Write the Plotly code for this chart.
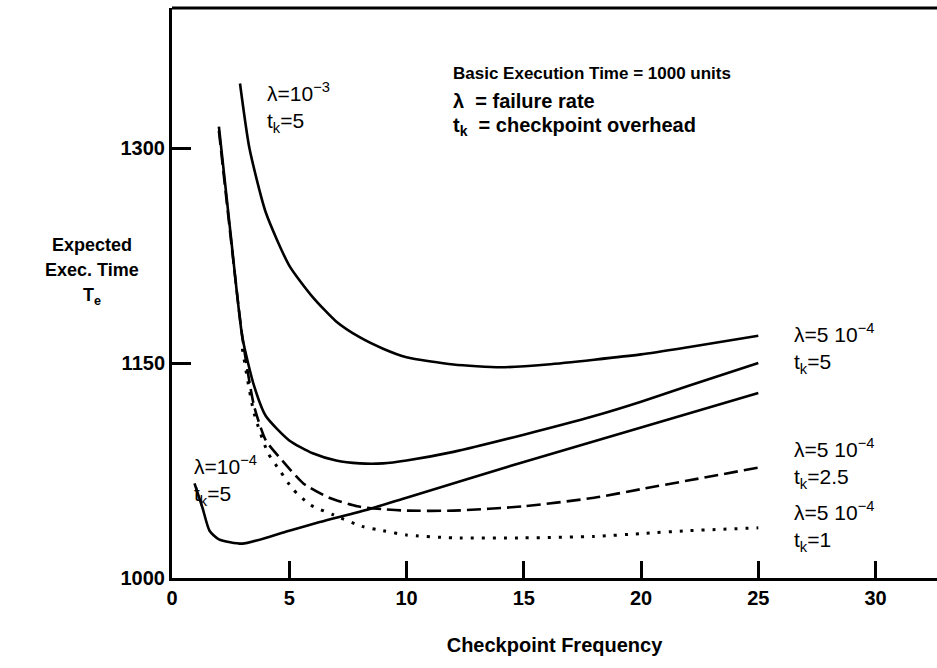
import plotly.graph_objects as go

# Checkpoint frequency (x) and expected execution time (y) for each configuration
x_l1e3_t5 = [2.9, 3.3, 4.0, 5.0, 6.0, 7.0, 8.0, 9.0, 10.0, 12.0, 14.0, 16.0, 20.0, 22.0, 25.0]
y_l1e3_t5 = [1345, 1300, 1255, 1218, 1196, 1179, 1168, 1160, 1154, 1149, 1147, 1149, 1156, 1161, 1169]

x_l5e4_t5 = [2.0, 2.5, 3.0, 3.5, 4.0, 5.0, 6.0, 7.0, 8.0, 9.0, 10.0, 12.0, 15.0, 18.0, 20.0, 22.0, 25.0]
y_l5e4_t5 = [1315, 1240, 1168, 1134, 1113, 1096, 1087, 1082, 1080, 1080, 1082, 1088, 1100, 1113, 1123, 1134, 1150]

x_l5e4_t25 = [2.0, 2.5, 3.0, 3.5, 4.0, 4.7, 5.6, 6.7, 7.9, 9.0, 10.0, 12.0, 15.0, 18.0, 20.0, 22.0, 25.0]
y_l5e4_t25 = [1312, 1238, 1168, 1120, 1096, 1082, 1066, 1056, 1050, 1048, 1047, 1047, 1050, 1056, 1062, 1068, 1077]

x_l5e4_t1 = [3.0, 3.5, 4.1, 4.6, 5.15, 5.9, 6.9, 8.1, 9.0, 10.0, 12.0, 15.0, 18.0, 20.0, 22.0, 25.0]
y_l5e4_t1 = [1160, 1115, 1087, 1075, 1062, 1051, 1044, 1036, 1033, 1030, 1028, 1028, 1029, 1031, 1033, 1035]

x_l1e4_t5 = [0.96, 1.3, 1.6, 2.0, 3.0, 4.2, 5.0, 6.3, 8.4, 10.0, 15.0, 20.0, 25.0]
y_l1e4_t5 = [1066, 1049, 1033, 1027, 1024, 1029, 1033, 1039, 1048, 1056, 1081, 1105, 1129]

x_ticks = [0, 5, 10, 15, 20, 25, 30]
y_ticks = [1000, 1150, 1300]

FONT = "Liberation Sans, Arial, sans-serif"
INK = "black"

fig = go.Figure()

def curve(xs, ys, dash="solid", width=2.6):
    fig.add_trace(go.Scatter(
        x=xs, y=ys, mode="lines",
        line=dict(color=INK, width=width, dash=dash, shape="spline", smoothing=0.6),
        hoverinfo="skip", showlegend=False,
    ))

curve(x_l1e3_t5, y_l1e3_t5)
curve(x_l5e4_t5, y_l5e4_t5)
curve(x_l5e4_t25, y_l5e4_t25, dash="14px,6px")
curve(x_l5e4_t1, y_l5e4_t1, dash="3px,8px", width=3)
curve(x_l1e4_t5, y_l1e4_t5)

def label(x, y, text, size=21, xanchor="left", bold=False):
    if bold:
        text = "<b>" + text + "</b>"
    fig.add_annotation(
        x=x, y=y, xref="x", yref="y", text=text, showarrow=False,
        xanchor=xanchor, yanchor="middle", align="left",
        font=dict(family=FONT, size=size, color=INK),
    )

# curve labels (two lines each)
label(3.95, 1328, "λ=10<sup>−3</sup><br>t<sub>k</sub>=5")
label(26.44, 1160, "λ=5 10<sup>−4</sup><br>t<sub>k</sub>=5")
label(26.44, 1080, "λ=5 10<sup>−4</sup><br>t<sub>k</sub>=2.5")
label(26.44, 1036, "λ=5 10<sup>−4</sup><br>t<sub>k</sub>=1")
label(0.85, 1068, "λ=10<sup>−4</sup><br>t<sub>k</sub>=5")

# key text block
label(11.9, 1352, "Basic Execution Time = 1000 units", size=17, bold=True)
label(11.9, 1333, "λ  = failure rate", size=20, bold=True)
label(11.9, 1315, "t<sub>k</sub>  = checkpoint overhead", size=20, bold=True)

# y-axis title block
for yy, t in [(0.585, "Expected"), (0.54, "Exec. Time"), (0.493, "T<sub>e</sub>")]:
    fig.add_annotation(
        x=-0.105, y=yy, xref="paper", yref="paper", text="<b>" + t + "</b>",
        showarrow=False, xanchor="center", yanchor="middle",
        font=dict(family=FONT, size=18, color=INK),
    )

# top border of the frame
fig.add_shape(type="line", xref="paper", yref="paper", x0=0, x1=1, y0=1, y1=1,
              line=dict(color=INK, width=3))

fig.update_layout(
    width=937, height=668,
    margin=dict(l=172, r=0, t=8, b=90),
    paper_bgcolor="white", plot_bgcolor="white",
    showlegend=False,
    xaxis=dict(
        range=[0, 32.62], tickvals=x_ticks, ticktext=[str(v) for v in x_ticks],
        ticks="inside", ticklen=17, tickwidth=2.5, tickcolor=INK,
        showline=True, linecolor=INK, linewidth=3, showgrid=False, zeroline=False,
        tickfont=dict(family=FONT, size=20, color=INK, weight="bold"),
        title=dict(text="<b>Checkpoint Frequency</b>", standoff=30,
                   font=dict(family=FONT, size=20, color=INK)),
    ),
    yaxis=dict(
        range=[1000, 1397.7], tickvals=y_ticks, ticktext=[str(v) for v in y_ticks],
        ticks="inside", ticklen=19, tickwidth=2.5, tickcolor=INK,
        showline=True, linecolor=INK, linewidth=3, showgrid=False, zeroline=False,
        tickfont=dict(family=FONT, size=20, color=INK, weight="bold"),
    ),
)

fig.write_html("out.html")
